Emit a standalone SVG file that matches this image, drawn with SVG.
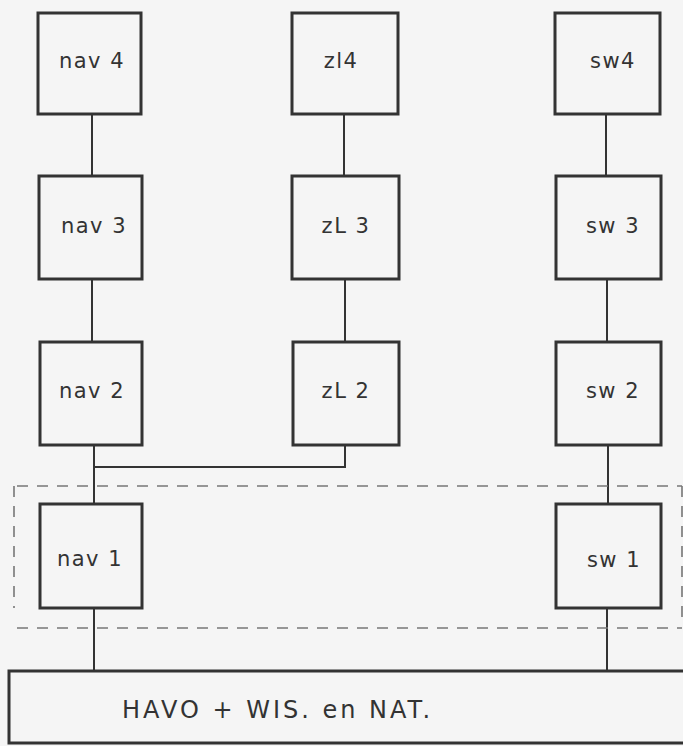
<svg xmlns="http://www.w3.org/2000/svg" width="683" height="746" viewBox="0 0 683 746">
<style>
.box{fill:none;stroke:#333;stroke-width:3}
.ln{fill:none;stroke:#333;stroke-width:2}
.dash{fill:none;stroke:#777;stroke-width:1.6;stroke-dasharray:11 9}
.t{font-family:"DejaVu Sans","Liberation Sans",sans-serif;font-size:21px;fill:#333;text-anchor:middle;letter-spacing:1.5px}
.big{font-family:"DejaVu Sans","Liberation Sans",sans-serif;font-size:24px;fill:#333;letter-spacing:3px}
</style>
<rect width="683" height="746" fill="#f5f5f5"/>
<g id="connectors">
<line class="ln" x1="92" y1="114" x2="92" y2="176"/>
<line class="ln" x1="92" y1="279" x2="92" y2="342"/>
<line class="ln" x1="94" y1="445" x2="94" y2="504"/>
<polyline class="ln" points="345,445 345,467 94,467"/>
<line class="ln" x1="94" y1="608" x2="94" y2="671"/>
<line class="ln" x1="344" y1="114" x2="344" y2="176"/>
<line class="ln" x1="345" y1="279" x2="345" y2="342"/>
<line class="ln" x1="606" y1="114" x2="606" y2="176"/>
<line class="ln" x1="607" y1="279" x2="607" y2="342"/>
<line class="ln" x1="608" y1="445" x2="608" y2="504"/>
<line class="ln" x1="607" y1="608" x2="607" y2="671"/>
</g>
<g id="dashed-group">
<line class="dash" x1="17" y1="486" x2="682" y2="486"/>
<line class="dash" x1="17" y1="628" x2="682" y2="628"/>
<line class="dash" x1="14" y1="486" x2="14" y2="608"/>
<line class="dash" x1="682" y1="486" x2="682" y2="620"/>
</g>
<g id="nav4"><rect class="box" x="38" y="13" width="103" height="101"/><text class="t" x="92" y="68">nav 4</text></g>
<g id="nav3"><rect class="box" x="39" y="176" width="103" height="103"/><text class="t" x="94" y="233">nav 3</text></g>
<g id="nav2"><rect class="box" x="40" y="342" width="102" height="103"/><text class="t" x="92" y="398">nav 2</text></g>
<g id="nav1"><rect class="box" x="40" y="504" width="102" height="104"/><text class="t" x="90" y="566">nav 1</text></g>
<g id="zl4"><rect class="box" x="292" y="13" width="106" height="101"/><text class="t" x="341" y="68">zl4</text></g>
<g id="zl3"><rect class="box" x="292" y="176" width="107" height="103"/><text class="t" x="346" y="233">zL 3</text></g>
<g id="zl2"><rect class="box" x="293" y="342" width="106" height="103"/><text class="t" x="346" y="398">zL 2</text></g>
<g id="sw4"><rect class="box" x="555" y="13" width="105" height="101"/><text class="t" x="613" y="68">sw4</text></g>
<g id="sw3"><rect class="box" x="556" y="176" width="105" height="103"/><text class="t" x="613" y="233">sw 3</text></g>
<g id="sw2"><rect class="box" x="556" y="342" width="105" height="103"/><text class="t" x="613" y="398">sw 2</text></g>
<g id="sw1"><rect class="box" x="556" y="504" width="105" height="104"/><text class="t" x="614" y="567">sw 1</text></g>
<g id="havo"><rect class="box" x="9" y="671" width="690" height="72"/><text class="big" x="122" y="718">HAVO + WIS. en NAT.</text></g>
</svg>
